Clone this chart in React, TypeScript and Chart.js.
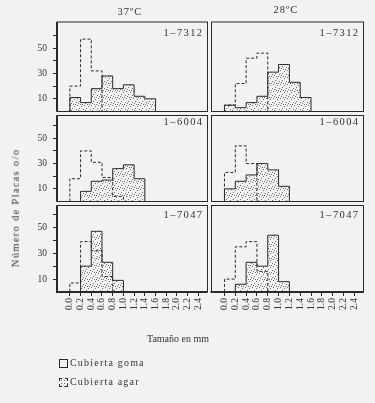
import React, { useEffect, useRef } from 'react';
import { Chart, registerables } from 'chart.js';
Chart.register(...registerables);

// ---- data ----
const binEdges = [0, 0.2, 0.4, 0.6, 0.8, 1.0, 1.2, 1.4, 1.6];
const xTickValues = [0, 0.2, 0.4, 0.6, 0.8, 1.0, 1.2, 1.4, 1.6, 1.8, 2.0, 2.2, 2.4];
const yTickValues = [10, 20, 30, 40, 50, 60];
const yLabelValues = [10, 30, 50];
const temperatures = ['37ºC', '28ºC'];
const strains = ['1–7312', '1–6004', '1–7047'];
const legendLabels = ['Cubierta goma', 'Cubierta agar'];
const xAxisTitle = 'Tamaño en mm';
const yAxisTitle = 'Número de Placas o/o';

const goma37_7312 = [20, 57, 32, 0, 0, 0, 0, 0];
const agar37_7312 = [11, 7, 18, 28, 18, 21, 12, 10];
const goma28_7312 = [5, 22, 42, 46, 0, 0, 0, 0];
const agar28_7312 = [5, 3, 7, 12, 31, 37, 23, 11];
const goma37_6004 = [18, 40, 31, 19, 4, 0, 0, 0];
const agar37_6004 = [0, 8, 16, 17, 26, 29, 18, 0];
const goma28_6004 = [23, 44, 30, 0, 0, 0, 0, 0];
const agar28_6004 = [10, 16, 21, 30, 25, 12, 0, 0];
const goma37_7047 = [7, 39, 32, 12, 0, 0, 0, 0];
const agar37_7047 = [0, 20, 47, 23, 9, 0, 0, 0];
const goma28_7047 = [10, 35, 39, 16, 0, 0, 0, 0];
const agar28_7047 = [0, 6, 23, 20, 44, 8, 0, 0];

const gomaSeries = [
  [goma37_7312, goma28_7312],
  [goma37_6004, goma28_6004],
  [goma37_7047, goma28_7047],
];
const agarSeries = [
  [agar37_7312, agar28_7312],
  [agar37_6004, agar28_6004],
  [agar37_7047, agar28_7047],
];

// ---- layout ----
const W = 375;
const H = 403;
const COL_LEFT = [57, 211.5];
const COL_RIGHT = [207.5, 363.5];
const ROW_TOP = [22, 115.5, 205.5];
const ROW_BOTTOM = [111.5, 201.5, 292];
const ROW_YMAX = [70.5, 68, 67];
const LABEL_DY = [11, 7, 10];
const X_MIN = -0.24;
const X_MAX = 2.57;
const Y_AXIS_W = 30;
const X_AXIS_H = 28;
const BG = '#f2f2f1';
const INK = '#2a2a2a';
const FONT = '"Liberation Serif", "DejaVu Serif", serif';

function stepPoints(values: number[]) {
  const first = values.findIndex((v) => v > 0);
  let last = values.length - 1;
  while (last >= 0 && values[last] === 0) last--;
  const pts: { x: number; y: number }[] = [{ x: binEdges[first], y: 0 }];
  for (let i = first; i <= last; i++) pts.push({ x: binEdges[i], y: values[i] });
  pts.push({ x: binEdges[last + 1], y: 0 });
  return pts;
}

let stipple: CanvasPattern | null = null;
function getStipple(ctx: CanvasRenderingContext2D) {
  if (stipple) return stipple;
  const c = document.createElement('canvas');
  c.width = 7;
  c.height = 7;
  const g = c.getContext('2d')!;
  g.fillStyle = BG;
  g.fillRect(0, 0, 7, 7);
  g.fillStyle = '#707070';
  const dots = [[0, 0], [4, 1], [2, 3], [6, 4], [1, 5], [5, 6], [3, 6]];
  dots.forEach(([x, y]) => g.fillRect(x, y, 1, 1));
  stipple = ctx.createPattern(c, 'repeat');
  return stipple!;
}

function Panel({ row, col }: { row: number; col: number }) {
  const ref = useRef<HTMLCanvasElement>(null);
  useEffect(() => {
    const canvas = ref.current!;
    const ctx = canvas.getContext('2d')!;
    const showY = col === 0;
    const showX = row === 2;
    const left = COL_LEFT[col];
    const right = COL_RIGHT[col];
    const top = ROW_TOP[row];
    const bottom = ROW_BOTTOM[row];
    const label = strains[row];
    const framePlugin = {
      id: 'frame' + row + col,
      afterDraw(chart: any) {
        const c = chart.ctx as CanvasRenderingContext2D;
        const a = chart.chartArea;
        c.save();
        c.strokeStyle = INK;
        c.lineWidth = 1;
        c.strokeRect(a.left, a.top, a.right - a.left, a.bottom - a.top);
        if (col === 0) {
          c.lineWidth = 2;
          c.beginPath();
          c.moveTo(a.left, a.top);
          c.lineTo(a.left, a.bottom);
          c.stroke();
        }
        if (row === 2) {
          c.lineWidth = 2;
          c.beginPath();
          c.moveTo(a.left - 1, a.bottom);
          c.lineTo(a.right, a.bottom);
          c.stroke();
        }
        c.fillStyle = '#333';
        c.font = '10.5px ' + FONT;
        (c as any).letterSpacing = '1.4px';
        c.textAlign = 'right';
        c.textBaseline = 'middle';
        c.fillText(label, a.right - 4, a.top + LABEL_DY[row]);
        c.restore();
      },
    };
    const xScale: any = {
      type: 'linear',
      min: X_MIN,
      max: X_MAX,
      display: showX,
      afterBuildTicks: (s: any) => {
        s.ticks = xTickValues.map((v) => ({ value: v }));
      },
      border: { display: false },
      grid: {
        drawOnChartArea: false,
        drawTicks: true,
        tickLength: 4,
        color: INK,
        lineWidth: 1,
      },
      ticks: {
        autoSkip: false,
        minRotation: 90,
        maxRotation: 90,
        padding: 2,
        color: '#333',
        font: { family: FONT, size: 9.5 },
        callback: (v: any) => Number(v).toFixed(1),
      },
    };
    if (showX) {
      xScale.afterFit = (s: any) => {
        s.height = X_AXIS_H;
      };
    }
    const yScale: any = {
      type: 'linear',
      min: 0,
      max: ROW_YMAX[row],
      display: showY,
      afterBuildTicks: (s: any) => {
        s.ticks = yTickValues.map((v) => ({ value: v }));
      },
      border: { display: false },
      grid: {
        drawOnChartArea: false,
        drawTicks: true,
        tickLength: 4,
        color: INK,
        lineWidth: 1,
      },
      ticks: {
        autoSkip: false,
        padding: 6,
        color: '#333',
        font: { family: FONT, size: 9.5 },
        callback: (v: any) => (yLabelValues.includes(Number(v)) ? String(v) : ''),
      },
    };
    if (showY) {
      yScale.afterFit = (s: any) => {
        s.width = Y_AXIS_W;
      };
    }
    const chart = new Chart(canvas, {
      type: 'line',
      data: {
        datasets: [
          {
            label: legendLabels[0],
            data: stepPoints(gomaSeries[row][col]),
            stepped: true,
            borderColor: INK,
            borderWidth: 1,
            borderDash: [3, 2],
            pointRadius: 0,
            fill: false,
            order: 0,
          },
          {
            label: legendLabels[1],
            data: stepPoints(agarSeries[row][col]),
            stepped: true,
            borderColor: INK,
            borderWidth: 1,
            backgroundColor: getStipple(ctx),
            pointRadius: 0,
            fill: 'origin',
            order: 1,
          },
        ],
      },
      options: {
        responsive: false,
        animation: false,
        devicePixelRatio: 1,
        events: [],
        layout: {
          padding: {
            left: showY ? left - Y_AXIS_W : left,
            right: W - right,
            top: top,
            bottom: showX ? H - bottom - X_AXIS_H : H - bottom,
          },
        },
        plugins: {
          legend: { display: false },
          tooltip: { enabled: false },
        },
        scales: { x: xScale, y: yScale },
      },
      plugins: [framePlugin],
    });
    return () => chart.destroy();
  }, [row, col]);
  return (
    <canvas
      ref={ref}
      width={W}
      height={H}
      style={{ position: 'absolute', left: 0, top: 0, width: W, height: H }}
    />
  );
}

const textBase: React.CSSProperties = {
  position: 'absolute',
  fontFamily: FONT,
  color: '#333',
  whiteSpace: 'nowrap',
  lineHeight: 1,
  transform: 'translate(-50%, -50%)',
};

export default function App() {
  const cells: { row: number; col: number }[] = [];
  for (let r = 0; r < 3; r++) for (let c = 0; c < 2; c++) cells.push({ row: r, col: c });
  return (
    <div
      style={{
        position: 'absolute',
        left: 0,
        top: 0,
        width: W,
        height: H,
        background: BG,
        overflow: 'hidden',
      }}
    >
      {cells.map((p) => (
        <Panel key={p.row + '-' + p.col} row={p.row} col={p.col} />
      ))}
      <div style={{ ...textBase, left: 130, top: 12, fontSize: 10.5, letterSpacing: '1px' }}>
        {temperatures[0]}
      </div>
      <div style={{ ...textBase, left: 286, top: 10, fontSize: 10.5, letterSpacing: '1px' }}>
        {temperatures[1]}
      </div>
      <div
        style={{
          ...textBase,
          left: 16,
          top: 208,
          fontSize: 10.5,
          letterSpacing: '1.3px',
          transform: 'translate(-50%, -50%) rotate(-90deg)',
        }}
      >
        {yAxisTitle}
      </div>
      <div style={{ ...textBase, left: 178, top: 339, fontSize: 10 }}>{xAxisTitle}</div>
      <div
        style={{
          position: 'absolute',
          left: 59,
          top: 359,
          width: 7,
          height: 7,
          border: '1px solid ' + INK,
          background: BG,
        }}
      />
      <div
        style={{
          position: 'absolute',
          left: 59,
          top: 378,
          width: 7,
          height: 7,
          border: '1px dashed ' + INK,
          backgroundColor: BG,
          backgroundImage: 'radial-gradient(#666 0.7px, transparent 0.9px)',
          backgroundSize: '3px 3px',
        }}
      />
      <div
        style={{
          ...textBase,
          transform: 'translate(0, -50%)',
          left: 70,
          top: 363,
          fontSize: 10,
          letterSpacing: '1.2px',
        }}
      >
        {legendLabels[0]}
      </div>
      <div
        style={{
          ...textBase,
          transform: 'translate(0, -50%)',
          left: 70,
          top: 382,
          fontSize: 10,
          letterSpacing: '1.2px',
        }}
      >
        {legendLabels[1]}
      </div>
    </div>
  );
}
